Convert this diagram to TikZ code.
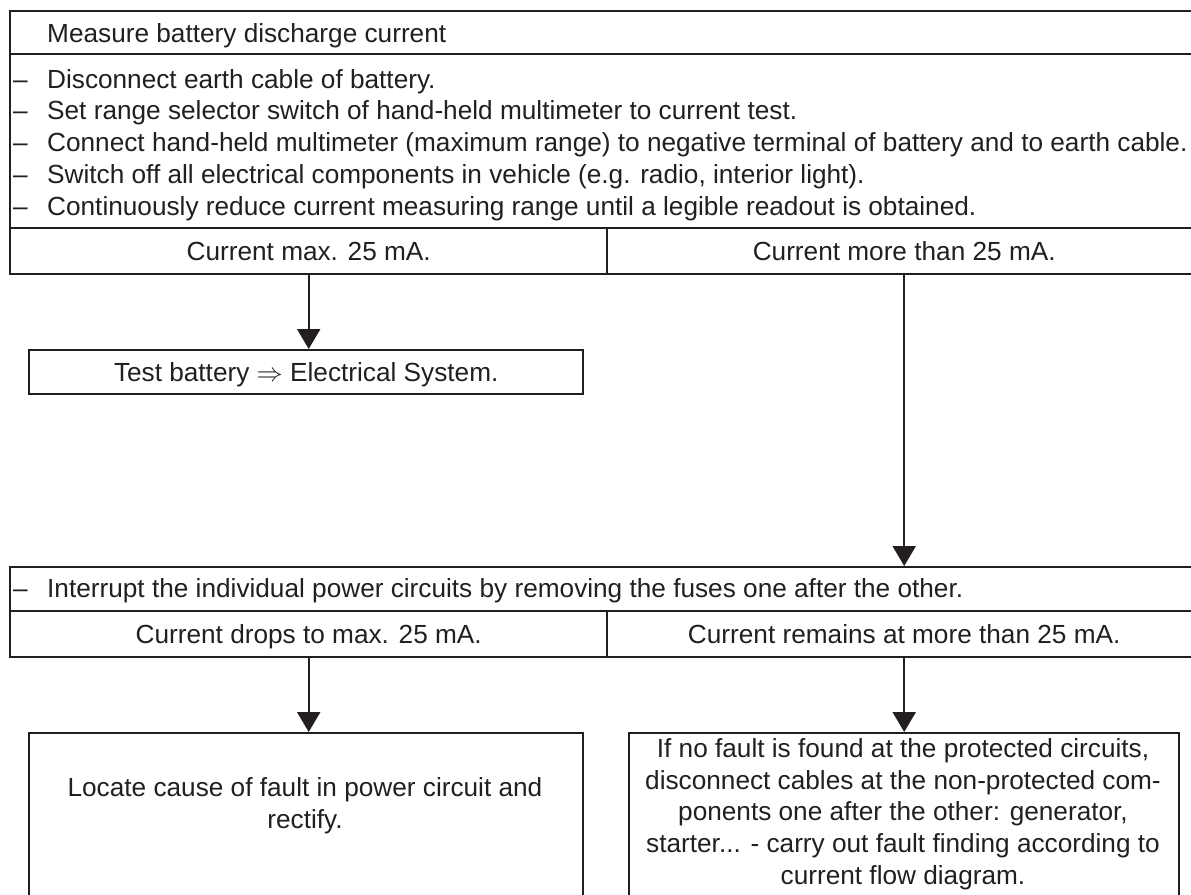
\RequirePackage{fix-cm}
\documentclass[tikz,border=0pt]{standalone}
\usepackage{fontspec}
\setmainfont{Liberation Sans}
\usetikzlibrary{arrows.meta}
\definecolor{ink}{RGB}{35,31,32}
\newcommand{\lstdash}{\makebox[38bp][l]{\hspace{4bp}–}}
\tikzset{
  frame/.style={draw=ink, line width=2.4bp, rectangle, inner sep=0pt, anchor=north west, text=ink, text depth=0pt},
  txt/.style={text=ink, inner sep=0pt, anchor=base west},
  ctr/.style={text=ink, inner sep=0pt, align=center},
  arr/.style={draw=ink, line width=2.2bp, -{Triangle[width=23bp,length=20bp]}}
}
\begin{document}
\begin{tikzpicture}[x=1bp,y=-1bp,font=\fontsize{26.2bp}{31.75bp}\selectfont]
\useasboundingbox (0,0) rectangle (1191,895);
\clip (0,0) rectangle (1191,895);
\fill[white] (0,0) rectangle (1191,895);
% frames
\node[frame, minimum width=1191bp, minimum height=43bp] (head) at (9,10) {};
\node[frame, minimum width=1191bp, minimum height=174bp] (list) at (9,53) {};
\node[frame, minimum width=597bp, minimum height=46bp] (c1) at (9,227) {Current max. 25 mA.};
\node[frame, minimum width=594bp, minimum height=46bp] (c2) at (606,227) {Current more than 25 mA.};
\node[frame, minimum width=554bp, minimum height=44bp] (tb) at (28,349) {Test battery $\Rightarrow$ Electrical System.};
\node[frame, minimum width=1191bp, minimum height=44bp] (intr) at (9,566) {};
\node[frame, minimum width=597bp, minimum height=46bp] (d1) at (9,610) {Current drops to max. 25 mA.};
\node[frame, minimum width=594bp, minimum height=46bp] (d2) at (606,610) {Current remains at more than 25 mA.};
\node[frame, minimum width=554bp, minimum height=200bp] (b1) at (28,732) {};
\node[frame, minimum width=550bp, minimum height=200bp] (b2) at (628,732) {};
% texts
\node[txt] (headt) at (47,42) {Measure battery discharge current};
\node[txt] (l1) at (9,88) {\lstdash Disconnect earth cable of battery.};
\node[txt] (l2) at (9,119.75) {\lstdash Set range selector switch of hand-held multimeter to current test.};
\node[txt] (l3) at (9,151.5) {\lstdash Connect hand-held multimeter (maximum range) to negative terminal of battery and to earth cable.};
\node[txt] (l4) at (9,183.25) {\lstdash Switch off all electrical components in vehicle (e.g. radio, interior light).};
\node[txt] (l5) at (9,215) {\lstdash Continuously reduce current measuring range until a legible readout is obtained.};
\node[txt] (it) at (9,597) {\lstdash Interrupt the individual power circuits by removing the fuses one after the other.};
\node[ctr] (b1t) at (305,806) {Locate cause of fault in power circuit and\\rectify.};
\node[ctr] (b2t) at (903,814) {If no fault is found at the protected circuits,\\disconnect cables at the non-protected com-\\ponents one after the other: generator,\\starter... - carry out fault finding according to\\current flow diagram.};
% connectors
\draw[arr] (c1.south) -- (c1.south |- tb.north);
\draw[arr] (c2.south) -- (c2.south |- intr.north);
\draw[arr] (d1.south) -- (d1.south |- b1.north);
\draw[arr] (d2.south) -- (d2.south |- b2.north);
\end{tikzpicture}
\end{document}
